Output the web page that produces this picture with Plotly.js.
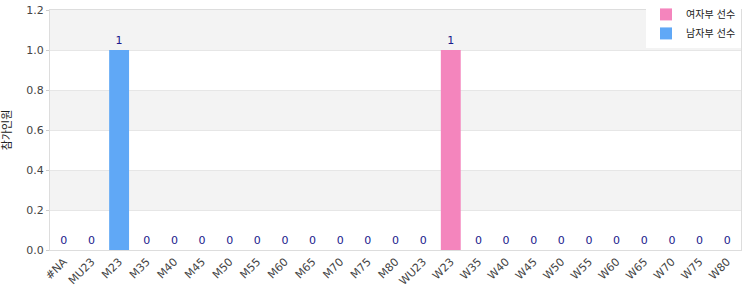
<!DOCTYPE html>
<html>
<head>
<meta charset="utf-8">
<script src="https://cdn.plot.ly/plotly-3.0.1.min.js"></script>
<style>html,body{margin:0;padding:0;background:#fff}#chart{width:750px;height:300px}</style>
</head>
<body>
<div id="chart"></div>
<script>
var categories = ["#NA","MU23","M23","M35","M40","M45","M50","M55","M60","M65","M70","M75","M80","WU23","W23","W35","W40","W45","W50","W55","W60","W65","W70","W75","W80"];
var maleCategories = ["#NA","MU23","M23","M35","M40","M45","M50","M55","M60","M65","M70","M75","M80"];
var maleValues = [0,0,1,0,0,0,0,0,0,0,0,0,0];
var femaleCategories = ["WU23","W23","W35","W40","W45","W50","W55","W60","W65","W70","W75","W80"];
var femaleValues = [0,1,0,0,0,0,0,0,0,0,0,0];
var femaleName = "여자부 선수";
var maleName = "남자부 선수";
var yTitle = "참가인원";
var yTicks = [0,0.2,0.4,0.6,0.8,1.0,1.2];

var font = "DejaVu Sans, Noto Sans CJK KR, sans-serif";
var traces = [
  {type:"bar", name:femaleName, x:femaleCategories, y:femaleValues,
   marker:{color:"#f485bd"}, text:femaleValues.map(String), textposition:"outside",
   textfont:{color:"#1a1a8c", size:11, family:font}, cliponaxis:false},
  {type:"bar", name:maleName, x:maleCategories, y:maleValues,
   marker:{color:"#60a8f6"}, text:maleValues.map(String), textposition:"outside",
   textfont:{color:"#1a1a8c", size:11, family:font}, cliponaxis:false}
];
var shapes = [];
for (var i = 0; i < yTicks.length - 1; i++) {
  if (i % 2 === 1) {
    shapes.push({type:"rect", xref:"paper", yref:"y", x0:0, x1:1, y0:yTicks[i], y1:yTicks[i+1],
      fillcolor:"#f3f3f3", line:{width:0}, layer:"below"});
  }
}
var layout = {
  width:750, height:300,
  margin:{l:50, r:9, t:10, b:50, autoexpand:false},
  font:{family:font, size:11, color:"#444"},
  paper_bgcolor:"#fff", plot_bgcolor:"#fff",
  barmode:"overlay", bargap:0.28,
  showlegend:true,
  legend:{x:1, xanchor:"right", y:1.042, yanchor:"top", bgcolor:"#fff",
    font:{size:10, color:"#222", family:font}, traceorder:"normal", tracegroupgap:0,
    itemwidth:30},
  xaxis:{type:"category", categoryorder:"array", categoryarray:categories,
    tickangle:-45, showgrid:false, showline:true, linecolor:"#ddd", mirror:true,
    tickfont:{size:11, color:"#444"}, ticks:"", zeroline:false},
  yaxis:{range:[0,1.2], tickvals:yTicks, tickformat:".1f", showgrid:true, gridcolor:"#e6e6e6",
    showline:true, linecolor:"#ddd", mirror:true, ticks:"outside", ticklen:3, tickcolor:"#ccc",
    zeroline:false, tickfont:{size:11, color:"#444"},
    title:{text:yTitle, font:{size:11, color:"#222", family:font}, standoff:12}},
  shapes:shapes
};
Plotly.newPlot("chart", traces, layout, {displayModeBar:false, staticPlot:true});
</script>
</body>
</html>
